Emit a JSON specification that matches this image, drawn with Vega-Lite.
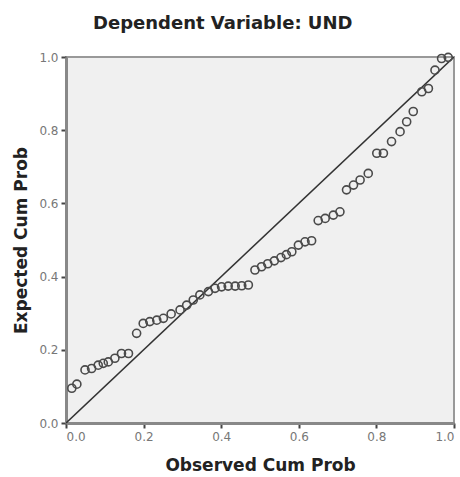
{
  "$schema": "https://vega.github.io/schema/vega-lite/v6.json",
  "width": 388,
  "height": 366,
  "autosize": "none",
  "padding": {"left": 66, "top": 57, "right": 6, "bottom": 54},
  "background": "white",
  "title": {
    "text": "Dependent Variable: UND",
    "font": "DejaVu Sans",
    "fontSize": 18,
    "fontWeight": "bold",
    "color": "#222",
    "anchor": "start",
    "frame": "group",
    "dx": 27,
    "baseline": "alphabetic",
    "offset": 3
  },
  "config": {
    "view": {"fill": "#f0f0f0", "stroke": "#999", "strokeWidth": 2},
    "axis": {
      "grid": false,
      "labelFont": "DejaVu Sans",
      "labelFontSize": 12,
      "labelColor": "#777",
      "titleFont": "DejaVu Sans",
      "titleFontSize": 17,
      "titleFontWeight": "bold",
      "titleColor": "#222",
      "domainColor": "#888",
      "domainWidth": 3,
      "tickColor": "#444",
      "tickWidth": 2,
      "tickSize": 5
    }
  },
  "layer": [
    {
      "data": {"values": [{"ox": 0, "ey": 0}, {"ox": 1, "ey": 1}]},
      "mark": {"type": "line", "color": "#333", "strokeWidth": 1.6, "clip": true},
      "encoding": {
        "x": {"field": "ox", "type": "quantitative"},
        "y": {"field": "ey", "type": "quantitative"}
      }
    },
    {
      "data": {
        "values": [
          {"ox": 0.015, "ey": 0.095}, {"ox": 0.028, "ey": 0.106}, {"ox": 0.049, "ey": 0.145},
          {"ox": 0.066, "ey": 0.149}, {"ox": 0.083, "ey": 0.158}, {"ox": 0.096, "ey": 0.163},
          {"ox": 0.109, "ey": 0.167}, {"ox": 0.126, "ey": 0.177}, {"ox": 0.143, "ey": 0.19},
          {"ox": 0.161, "ey": 0.19}, {"ox": 0.182, "ey": 0.245}, {"ox": 0.199, "ey": 0.272},
          {"ox": 0.216, "ey": 0.277}, {"ox": 0.234, "ey": 0.281}, {"ox": 0.251, "ey": 0.286},
          {"ox": 0.271, "ey": 0.298}, {"ox": 0.294, "ey": 0.309}, {"ox": 0.311, "ey": 0.322},
          {"ox": 0.328, "ey": 0.336}, {"ox": 0.345, "ey": 0.35}, {"ox": 0.367, "ey": 0.359},
          {"ox": 0.384, "ey": 0.368}, {"ox": 0.401, "ey": 0.372}, {"ox": 0.418, "ey": 0.374},
          {"ox": 0.436, "ey": 0.374}, {"ox": 0.453, "ey": 0.375}, {"ox": 0.47, "ey": 0.377},
          {"ox": 0.487, "ey": 0.418}, {"ox": 0.504, "ey": 0.427}, {"ox": 0.52, "ey": 0.435},
          {"ox": 0.537, "ey": 0.443}, {"ox": 0.554, "ey": 0.452}, {"ox": 0.568, "ey": 0.46},
          {"ox": 0.582, "ey": 0.468}, {"ox": 0.599, "ey": 0.486}, {"ox": 0.616, "ey": 0.495},
          {"ox": 0.633, "ey": 0.498}, {"ox": 0.65, "ey": 0.553}, {"ox": 0.668, "ey": 0.559},
          {"ox": 0.689, "ey": 0.568}, {"ox": 0.706, "ey": 0.577}, {"ox": 0.723, "ey": 0.637},
          {"ox": 0.741, "ey": 0.65}, {"ox": 0.758, "ey": 0.664}, {"ox": 0.779, "ey": 0.682},
          {"ox": 0.801, "ey": 0.737}, {"ox": 0.818, "ey": 0.737}, {"ox": 0.839, "ey": 0.769},
          {"ox": 0.861, "ey": 0.796}, {"ox": 0.878, "ey": 0.823}, {"ox": 0.895, "ey": 0.851},
          {"ox": 0.917, "ey": 0.905}, {"ox": 0.934, "ey": 0.914}, {"ox": 0.951, "ey": 0.964},
          {"ox": 0.968, "ey": 0.996}, {"ox": 0.985, "ey": 0.999}
        ]
      },
      "mark": {"type": "point", "shape": "circle", "filled": false, "size": 65, "stroke": "#4a4a4a", "strokeWidth": 1.6, "opacity": 1},
      "encoding": {
        "x": {
          "field": "ox", "type": "quantitative",
          "scale": {"domain": [0, 1], "nice": false},
          "axis": {"values": [0, 0.2, 0.4, 0.6, 0.8, 1.0], "format": ".1f", "title": "Observed Cum Prob", "titlePadding": 15, "labelPadding": 3}
        },
        "y": {
          "field": "ey", "type": "quantitative",
          "scale": {"domain": [0, 1], "nice": false},
          "axis": {"values": [0, 0.2, 0.4, 0.6, 0.8, 1.0], "format": ".1f", "title": "Expected Cum Prob", "titlePadding": 8, "labelPadding": 3}
        }
      }
    }
  ]
}
